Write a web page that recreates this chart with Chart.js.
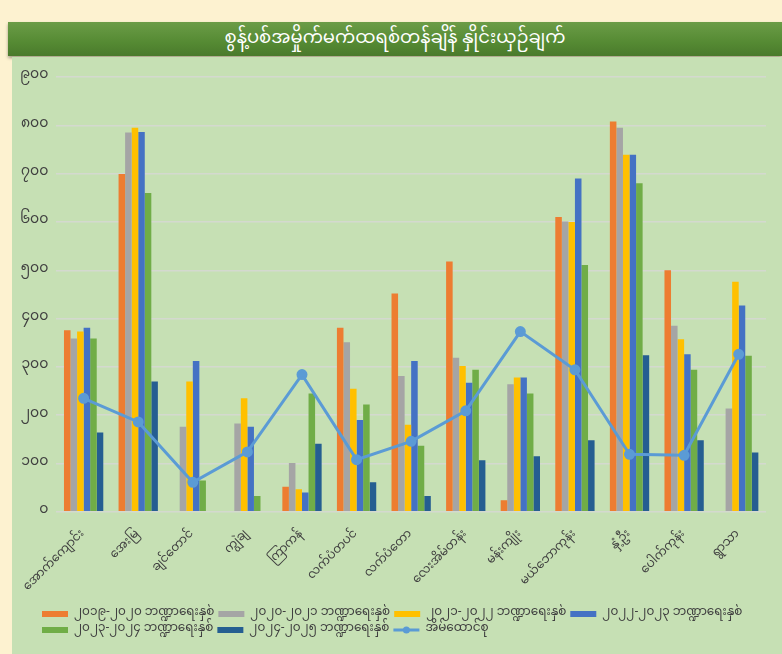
<!DOCTYPE html>
<html>
<head>
<meta charset="utf-8">
<script src="https://cdn.jsdelivr.net/npm/chart.js@4.4.1/dist/chart.umd.min.js"></script>
<style>
  html, body { margin: 0; padding: 0; width: 782px; height: 654px; overflow: hidden; background: #fdf2d0; }
  #title {
    position: absolute; left: 8px; top: 22px; width: 774px; height: 34px;
    background: linear-gradient(#6b9c47, #558a33 60%, #4a7a2c);
    color: #fff; font: 18px "Noto Sans Myanmar", "Padauk", "Myanmar Text", sans-serif;
    text-align: center; line-height: 34px; box-shadow: 0 2px 3px rgba(0,0,0,0.35);
  }
  #panel { position: absolute; left: 12px; top: 57px; width: 770px; height: 597px; background: #c6e0b4; }
  canvas { display: block; }
</style>
</head>
<body>
<div id="title">စွန့်ပစ်အမှိုက်မက်ထရစ်တန်ချိန် နှိုင်းယှဉ်ချက်</div>
<div id="panel"><canvas id="c" width="770" height="597"></canvas></div>
<script>
const categories = ["အောက်ကျောင်း","အေးမြ","ချင်တောင်","ကျွဲချ","ကြာကန်","လက်ပံတပင်","လက်ပံတော","လေးအိမ်တန်း","မန်းကျိုး","မယ်ဘောကုန်း","နှံ့ဦး","ပေါက်ကုန်း","ရွာသာ"];
const seriesNames = ["၂၀၁၉-၂၀၂၀ ဘဏ္ဍာရေးနှစ်","၂၀၂၀-၂၀၂၁ ဘဏ္ဍာရေးနှစ်","၂၀၂၁-၂၀၂၂ ဘဏ္ဍာရေးနှစ်","၂၀၂၂-၂၀၂၃ ဘဏ္ဍာရေးနှစ်","၂၀၂၃-၂၀၂၄ ဘဏ္ဍာရေးနှစ်","၂၀၂၄-၂၀၂၅ ဘဏ္ဍာရေးနှစ်"];
const lineName = "အိမ်ထောင်စု";
const fy1920 = [376, 699, null, null, 52, 381, 452, 518, 24, 610, 808, 500, null];
const fy2021 = [359, 785, 176, 183, 101, 351, 281, 319, 264, 601, 795, 385, 214];
const fy2122 = [373, 795, 270, 235, 47, 255, 180, 302, 278, 600, 739, 357, 476];
const fy2223 = [381, 786, 312, 176, 40, 190, 312, 267, 278, 690, 739, 326, 427];
const fy2324 = [359, 660, 65, 33, 245, 222, 137, 294, 245, 511, 680, 294, 323];
const fy2425 = [164, 270, null, null, 141, 61, 33, 107, 115, 148, 324, 148, 123];
const households = [235, 186, 61, 124, 284, 108, 146, 209, 373, 294, 119, 117, 326];
const yTicks = [0, 100, 200, 300, 400, 500, 600, 700, 800, 900];

const barColors = ["#ed7d31", "#a5a5a5", "#ffc000", "#4472c4", "#70ad47", "#255e91"];
const lineColor = "#5b9bd5";
const mmDigits = "၀၁၂၃၄၅၆၇၈၉";
const toMM = n => String(n).replace(/[0-9]/g, d => mmDigits[+d]);
const FONT = '"Noto Sans Myanmar", "Padauk", "Myanmar Text", sans-serif';

const barData = [fy1920, fy2021, fy2122, fy2223, fy2324, fy2425];
const datasets = barData.map((d, i) => ({
  type: 'bar', label: seriesNames[i], data: d, backgroundColor: barColors[i],
  borderWidth: 0, barPercentage: 1.0, categoryPercentage: 0.72, order: 1,
  pointStyle: 'rect'
}));
datasets.push({
  type: 'line', label: lineName, data: households, borderColor: lineColor,
  backgroundColor: lineColor, borderWidth: 3, pointRadius: 4, pointBackgroundColor: lineColor,
  pointBorderColor: lineColor, tension: 0, order: 0, pointStyle: 'circle'
});

const legendTweak = {
  id: 'legendTweak',
  afterLayout(chart) {
    const lg = chart.legend;
    if (lg) { lg.left = 26; }
  },
  afterDraw(chart) {
    const lg = chart.legend;
    if (!lg || !lg.legendItems) return;
    const ctx = chart.ctx;
    lg.legendItems.forEach((it, i) => {
      if (it.datasetIndex !== 6) return;
      const hb = lg.legendHitBoxes[i];
      const bw = lg.options.labels.pointStyleWidth;
      ctx.save();
      ctx.fillStyle = lineColor;
      ctx.beginPath();
      ctx.arc(hb.left + bw / 2, hb.top + hb.height / 2, 3.5, 0, Math.PI * 2);
      ctx.fill();
      ctx.restore();
    });
  }
};

new Chart(document.getElementById('c'), {
  data: { labels: categories, datasets },
  plugins: [legendTweak],
  options: {
    responsive: false, animation: false,
    layout: { padding: { top: 20, right: 16, left: 0, bottom: 8 } },
    plugins: {
      legend: {
        position: 'bottom', align: 'start',
        labels: {
          usePointStyle: true, pointStyleWidth: 26, boxHeight: 6, boxWidth: 26, padding: 4, color: '#404040',
          font: { family: FONT, size: 12 },
          sort: (a, b) => a.datasetIndex - b.datasetIndex,
          generateLabels: chart => {
            const items = Chart.defaults.plugins.legend.labels.generateLabels(chart);
            items.forEach(it => {
              if (it.datasetIndex === 6) { it.pointStyle = 'line'; it.lineWidth = 3; it.strokeStyle = lineColor; }
              else { it.pointStyle = 'rect'; it.lineWidth = 0; }
            });
            return items;
          }
        }
      },
      tooltip: { enabled: false }
    },
    scales: {
      x: {
        grid: { display: false }, border: { display: false },
        afterFit: ax => { ax.height += 1; },
        ticks: { color: '#404040', padding: 8, font: { family: FONT, size: 12 }, maxRotation: 45, minRotation: 45, autoSkip: false }
      },
      y: {
        min: 0, max: 900,
        afterBuildTicks: ax => { ax.ticks = yTicks.map(v => ({ value: v })); },
        grid: { color: '#d4d9cf', lineWidth: 1.5, drawTicks: false }, border: { display: false },
        ticks: { color: '#404040', padding: 8, font: { family: FONT, size: 14 }, callback: v => toMM(v) }
      }
    }
  }
});
</script>
</body>
</html>
